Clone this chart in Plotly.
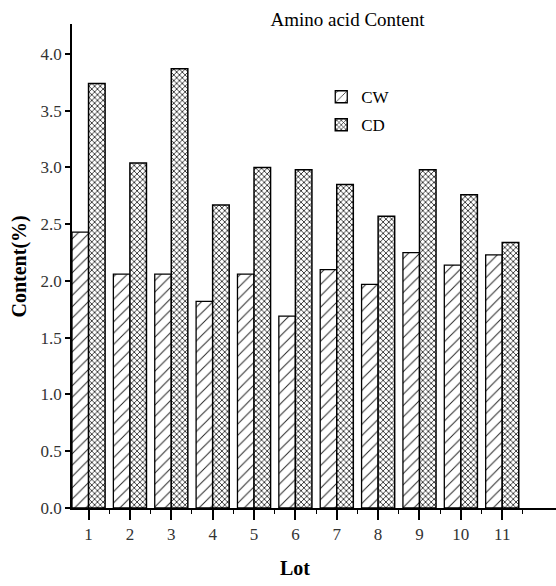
import plotly.graph_objects as go

lots = list(range(1, 12))
lot_labels = [str(i) for i in lots]
cw = [2.43, 2.06, 2.06, 1.82, 2.06, 1.69, 2.10, 1.97, 2.25, 2.14, 2.23]
cd = [3.74, 3.04, 3.87, 2.67, 3.00, 2.98, 2.85, 2.57, 2.98, 2.76, 2.34]
y_ticks = [0.0, 0.5, 1.0, 1.5, 2.0, 2.5, 3.0, 3.5, 4.0]

FONT = "Liberation Serif"

fig = go.Figure()
fig.add_trace(go.Bar(
    x=lots, y=cw, name="CW", legendgroup="a",
    marker=dict(color="white",
                line=dict(color="black", width=1.3),
                pattern=dict(shape="/", size=8, solidity=0.12,
                             fgcolor="#222", bgcolor="white", fillmode="replace")),
))
fig.add_trace(go.Bar(
    x=lots, y=cd, name="CD", legendgroup="b",
    marker=dict(color="white",
                line=dict(color="black", width=1.5),
                pattern=dict(shape="x", size=4, solidity=0.38,
                             fgcolor="#222", bgcolor="white", fillmode="replace")),
))

fig.update_layout(
    width=556, height=586,
    margin=dict(l=72, r=0, t=24, b=78, pad=0),
    paper_bgcolor="white", plot_bgcolor="white",
    barmode="group", bargap=0.2, bargroupgap=0,
    font=dict(family=FONT, color="black"),
    title=dict(text="Amino acid Content", x=0.625, y=0.967,
               xanchor="center", yanchor="middle",
               font=dict(family=FONT, size=19, color="black")),
    legend=dict(x=0.515, y=0.886, xanchor="left", yanchor="top",
                font=dict(family=FONT, size=17, color="black"),
                bgcolor="rgba(0,0,0,0)", traceorder="grouped",
                tracegroupgap=3),
    xaxis=dict(range=[0.6, 12.3], tickmode="array", tickvals=lots,
               ticktext=lot_labels, ticks="outside", ticklen=10, tickwidth=1.5,
               tickcolor="black", showline=True, linecolor="black", linewidth=1.5,
               showgrid=False, zeroline=False,
               tickfont=dict(family=FONT, size=17, color="#333"),
               minor=dict(tickmode="linear", tick0=0.5, dtick=1, ticks="outside",
                          ticklen=4, tickwidth=1.2, tickcolor="black", showgrid=False)),
    yaxis=dict(range=[0, 4.264], tickmode="array", tickvals=y_ticks,
               ticktext=[f"{v:.1f}" for v in y_ticks],
               ticks="outside", ticklen=5, tickwidth=1.5, tickcolor="black",
               showline=True, linecolor="black", linewidth=1.5,
               showgrid=False, zeroline=False,
               tickfont=dict(family=FONT, size=17, color="#333")),
    annotations=[
        dict(text="<b>Content(%)</b>", xref="paper", yref="paper",
             x=-0.1095, y=0.499, xanchor="center", yanchor="middle",
             textangle=-90, showarrow=False,
             font=dict(family=FONT, size=20, color="black")),
        dict(text="<b>Lot</b>", xref="paper", yref="paper",
             x=0.461, y=-0.123, xanchor="center", yanchor="middle",
             showarrow=False, font=dict(family=FONT, size=20, color="black")),
    ],
)

fig.write_html("out.html")
